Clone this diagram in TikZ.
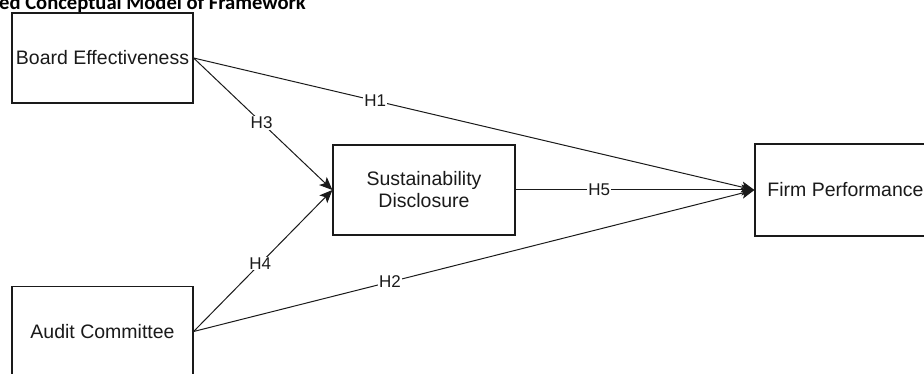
\documentclass[tikz,border=0pt]{standalone}
\usepackage{fontspec}
\setmainfont{Liberation Sans}
\newfontfamily\titlefont{Carlito}
\usetikzlibrary{arrows.meta}
\definecolor{ink}{HTML}{1A1A1A}
\begin{document}
\begin{tikzpicture}[x=1pt,y=-1pt,
  box/.style={draw=ink, line width=1.2pt, fill=white, inner sep=0pt,
    minimum width=181pt, minimum height=90pt, align=center,
    text=ink, font=\fontsize{19.5}{22}\selectfont},
  link/.style={draw=ink, line width=1pt, -{Stealth[length=13pt,width=11pt,inset=3pt]}},
  lab/.style={fill=white, inner sep=1pt, text=ink, font=\fontsize{17}{20}\selectfont},
  titletext/.style={font=\titlefont\bfseries\fontsize{20.6}{24}\selectfont, inner sep=0pt}]
\useasboundingbox (0,0) rectangle (924,374);
\node[titletext, anchor=base west] (title) at (-1,9.5) {ed Conceptual Model of Framework};
\node[box] (be) at (102.5,58) {Board Effectiveness};
\node[box] (ac) at (102.5,331.5) {Audit Committee};
\node[box, minimum width=182pt] (sd) at (424,190) {Sustainability\\Disclosure};
\node[box, minimum height=92pt] (fp) at (845.5,190) {Firm Performance};
\draw[link] (be.east) -- node[lab, pos=0.324] (h1) {H1} (fp.west);
\draw[link] (ac.east) -- node[lab, pos=0.35] (h2) {H2} (fp.west);
\draw[link] (be.east) -- node[lab, pos=0.49] (h3) {H3} (sd.west);
\draw[link] (ac.east) -- node[lab, pos=0.48] (h4) {H4} (sd.west);
\draw[link] (sd.east) -- node[lab, pos=0.35] (h5) {H5} (fp.west);
\end{tikzpicture}
\end{document}
